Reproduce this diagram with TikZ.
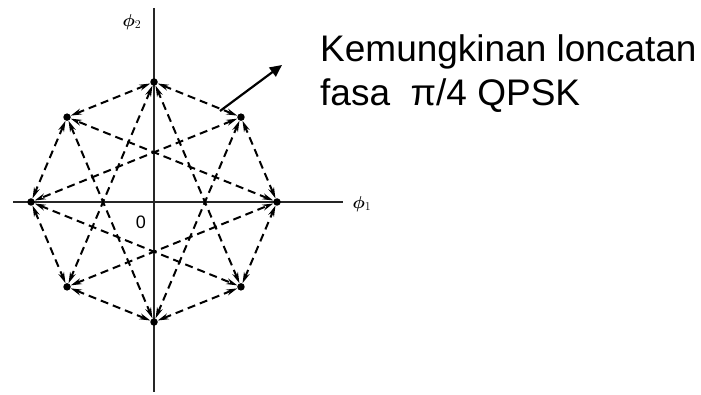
\documentclass[tikz,border=0pt]{standalone}
\usepackage{amsmath}
\usepackage{bm}
\usepackage{fontspec}
\setmainfont{Liberation Sans}
\usetikzlibrary{arrows.meta}

\begin{document}
\begin{tikzpicture}[x=1pt,y=-1pt,
  axis/.style={line width=1.6pt,black!85},
  dot/.style={circle,fill=black,inner sep=0pt,minimum size=7.5pt},
  trans/.style={line width=2pt,dash pattern=on 8pt off 5pt,
    {Stealth[length=11pt,width=6pt]}-{Stealth[length=11pt,width=6pt]}},
  pointer/.style={line width=2.2pt,-{Triangle[length=12pt,width=11pt]}}]
  \useasboundingbox (0,0) rectangle (701,395);

  % signal axes
  \coordinate (xa) at (13,202);
  \coordinate (xb) at (343,202);
  \coordinate (ya) at (154,8);
  \coordinate (yb) at (154,392);
  \draw[axis] (xa) -- (xb);
  \draw[axis] (ya) -- (yb);
  \node[font=\fontsize{18}{20}\selectfont] (phi1) at (362,204) {$\bm{\phi}_1$};
  \node[font=\fontsize{18}{20}\selectfont] (phi2) at (132,22) {$\bm{\phi}_2$};
  \node[font=\fontsize{18}{20}\selectfont] (origin) at (141,222) {0};

  % eight constellation points of pi/4 QPSK
  \foreach \k in {0,...,7}{
    \node[dot] (d\k) at ({154+123*cos(45*\k)},{202-120*sin(45*\k)}) {};
  }

  % allowed transitions: +-45 deg (octagon) and +-135 deg (star)
  \foreach \k in {0,...,7}{
    \pgfmathtruncatemacro{\na}{mod(\k+1,8)}
    \pgfmathtruncatemacro{\nb}{mod(\k+3,8)}
    \draw[trans] (d\k) -- (d\na);
    \draw[trans] (d\k) -- (d\nb);
  }

  % annotation
  \coordinate (ptail) at (220,111);
  \coordinate (phead) at (282,65);
  \draw[pointer] (ptail) -- (phead);
  \node[anchor=base west,align=left,inner sep=0pt,
        font=\fontsize{37}{44}\selectfont] (note) at (320,106)
    {Kemungkinan loncatan\\fasa\ \ π/4 QPSK};
\end{tikzpicture}
\end{document}
